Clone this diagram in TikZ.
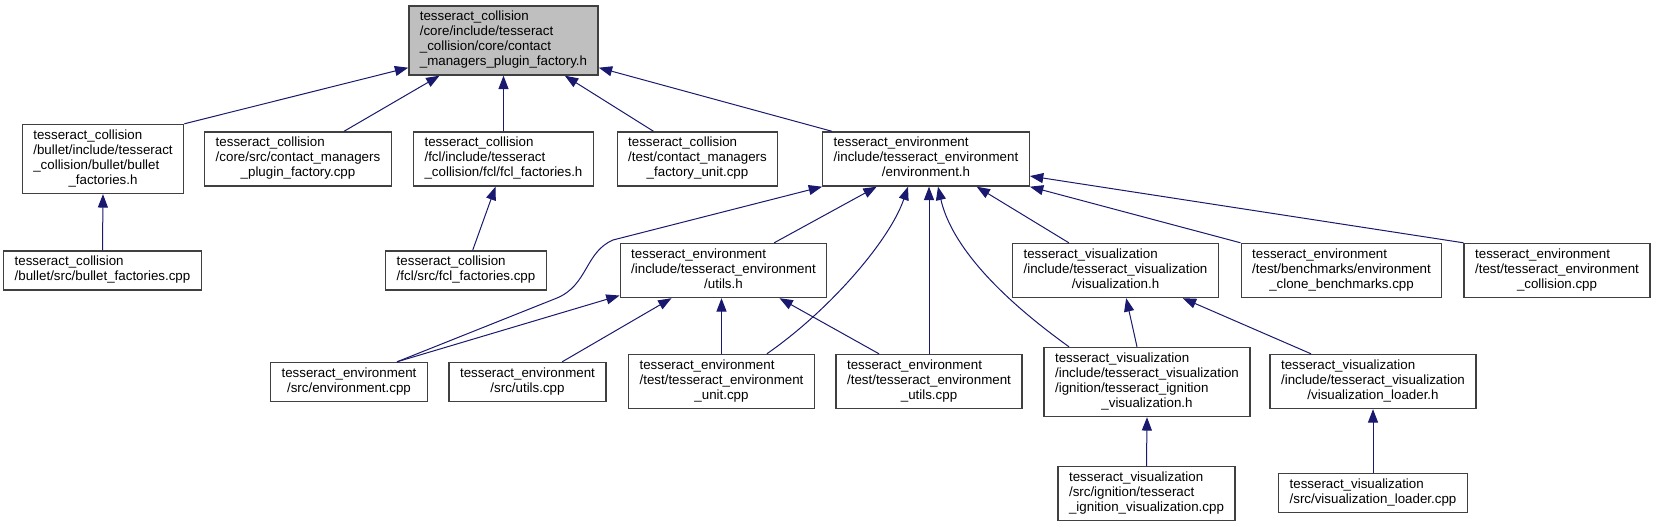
\documentclass[tikz,border=0pt]{standalone}
\usepackage{fontspec}
\setmainfont{Liberation Sans}
\usetikzlibrary{arrows.meta}
\definecolor{edgeblue}{RGB}{25,25,112}
\definecolor{boxline}{RGB}{64,64,64}
\definecolor{rootfill}{RGB}{191,191,191}
\newcommand{\flines}[1]{\begin{tabular}{@{}l@{}}#1\end{tabular}}
\newcommand{\lastln}[1]{\multicolumn{1}{@{}c@{}}{#1}}
\begin{document}
\begin{tikzpicture}[x=0.75pt, y=-0.75pt,
    box/.style={draw=boxline, fill=white, line width=1pt, inner xsep=8.25pt, inner ysep=3.4pt,
        font=\fontsize{10}{11.25}\selectfont},
    rootbox/.style={box, fill=rootfill},
    edge/.style={draw=edgeblue, line width=0.75pt, -{Triangle[length=10pt,width=7.5pt]}}]
        \fill[white] (0,0) rectangle (1655,527);
        \useasboundingbox (0,0) rectangle (1655,527);
        % ---- header under inspection ----
        \node[rootbox] (root) at (503.5,40.5) {\flines{tesseract\_collision\\/core/include/tesseract\\\_collision/core/contact\\\lastln{\_managers\_plugin\_factory.h}}};
        % ---- second row ----
        \node[box] (bullet_h) at (103,159) {\flines{tesseract\_collision\\/bullet/include/tesseract\\\_collision/bullet/bullet\\\lastln{\_factories.h}}};
        \node[box] (cmpf_cpp) at (298,159) {\flines{tesseract\_collision\\/core/src/contact\_managers\\\lastln{\_plugin\_factory.cpp}}};
        \node[box] (fcl_h) at (503.5,159) {\flines{tesseract\_collision\\/fcl/include/tesseract\\\lastln{\_collision/fcl/fcl\_factories.h}}};
        \node[box] (cmfu_cpp) at (697.5,159) {\flines{tesseract\_collision\\/test/contact\_managers\\\lastln{\_factory\_unit.cpp}}};
        \node[box] (env_h) at (926,159) {\flines{tesseract\_environment\\/include/tesseract\_environment\\\lastln{/environment.h}}};
        % ---- third row ----
        \node[box] (bullet_cpp) at (102.5,270.5) {\flines{tesseract\_collision\\\lastln{/bullet/src/bullet\_factories.cpp}}};
        \node[box] (fcl_cpp) at (466,270.5) {\flines{tesseract\_collision\\\lastln{/fcl/src/fcl\_factories.cpp}}};
        \node[box] (utils_h) at (723.5,270.5) {\flines{tesseract\_environment\\/include/tesseract\_environment\\\lastln{/utils.h}}};
        \node[box] (vis_h) at (1115.5,270.5) {\flines{tesseract\_visualization\\/include/tesseract\_visualization\\\lastln{/visualization.h}}};
        \node[box] (clone_cpp) at (1341.5,270.5) {\flines{tesseract\_environment\\/test/benchmarks/environment\\\lastln{\_clone\_benchmarks.cpp}}};
        \node[box] (coll_cpp) at (1557,270.5) {\flines{tesseract\_environment\\/test/tesseract\_environment\\\lastln{\_collision.cpp}}};
        % ---- fourth row ----
        \node[box] (env_cpp) at (349,382) {\flines{tesseract\_environment\\\lastln{/src/environment.cpp}}};
        \node[box] (utils_cpp) at (527.5,382) {\flines{tesseract\_environment\\\lastln{/src/utils.cpp}}};
        \node[box] (unit_cpp) at (721.5,381.5) {\flines{tesseract\_environment\\/test/tesseract\_environment\\\lastln{\_unit.cpp}}};
        \node[box] (envutils_cpp) at (929,381.5) {\flines{tesseract\_environment\\/test/tesseract\_environment\\\lastln{\_utils.cpp}}};
        \node[box] (ign_h) at (1147,382) {\flines{tesseract\_visualization\\/include/tesseract\_visualization\\/ignition/tesseract\_ignition\\\lastln{\_visualization.h}}};
        \node[box] (loader_h) at (1373,381.5) {\flines{tesseract\_visualization\\/include/tesseract\_visualization\\\lastln{/visualization\_loader.h}}};
        % ---- fifth row ----
        \node[box] (ign_cpp) at (1146.5,493.5) {\flines{tesseract\_visualization\\/src/ignition/tesseract\\\lastln{\_ignition\_visualization.cpp}}};
        \node[box] (loader_cpp) at (1373,493) {\flines{tesseract\_visualization\\\lastln{/src/visualization\_loader.cpp}}};
        % ---- includes of the header ----
        \draw[edge] (bullet_h.north east) -- ([yshift=6pt]root.south west);
        \draw[edge] ([xshift=34.5pt]cmpf_cpp.north) -- ([xshift=-48pt]root.south);
        \draw[edge] (fcl_h.north) -- (root.south);
        \draw[edge] ([xshift=-33pt]cmfu_cpp.north) -- ([xshift=46pt]root.south);
        \draw[edge] ([xshift=-70.5pt]env_h.north) -- ([yshift=6pt]root.south east);
        \draw[edge] (bullet_cpp.north) -- (bullet_h.south);
        \draw[edge] ([xshift=5pt]fcl_cpp.north) -- ([xshift=-6pt]fcl_h.south);
        % ---- includes of environment.h ----
        \draw[edge] ([xshift=38pt]utils_h.north) -- ([xshift=-37pt]env_h.south);
        \draw[edge] ([xshift=36pt]env_cpp.north) -- (557,298) .. controls (588,285) and (585,252) .. (613,240) -- (env_h.south west);
        \draw[edge] ([xshift=34pt]unit_cpp.north) .. controls (830,310) and (890,240) .. ([xshift=-13.5pt]env_h.south);
        \draw[edge] (envutils_cpp.north) -- (envutils_cpp.north |- env_h.south);
        \draw[edge] ([xshift=-58.5pt]ign_h.north) .. controls (990,290) and (950,240) .. ([xshift=9pt]env_h.south);
        \draw[edge] ([xshift=-35pt]vis_h.north) -- ([xshift=38pt]env_h.south);
        \draw[edge] (clone_cpp.north west) -- (env_h.south east);
        \draw[edge] (coll_cpp.north west) -- ([yshift=8pt]env_h.south east);
        % ---- includes of utils.h ----
        \draw[edge] ([xshift=36pt]env_cpp.north) -- ([yshift=2pt]utils_h.south west);
        \draw[edge] ([xshift=26pt]utils_cpp.north) -- ([xshift=-39pt]utils_h.south);
        \draw[edge] (unit_cpp.north) -- (unit_cpp.north |- utils_h.south);
        \draw[edge] ([xshift=-37.5pt]envutils_cpp.north) -- ([xshift=42pt]utils_h.south);
        % ---- visualization headers ----
        \draw[edge] ([xshift=-7.5pt]ign_h.north) -- ([xshift=8pt]vis_h.south);
        \draw[edge] ([xshift=-46.5pt]loader_h.north) -- ([xshift=50.5pt]vis_h.south);
        \draw[edge] (ign_cpp.north) -- (ign_h.south);
        \draw[edge] (loader_cpp.north) -- (loader_h.south);
    \end{tikzpicture}
\end{document}
